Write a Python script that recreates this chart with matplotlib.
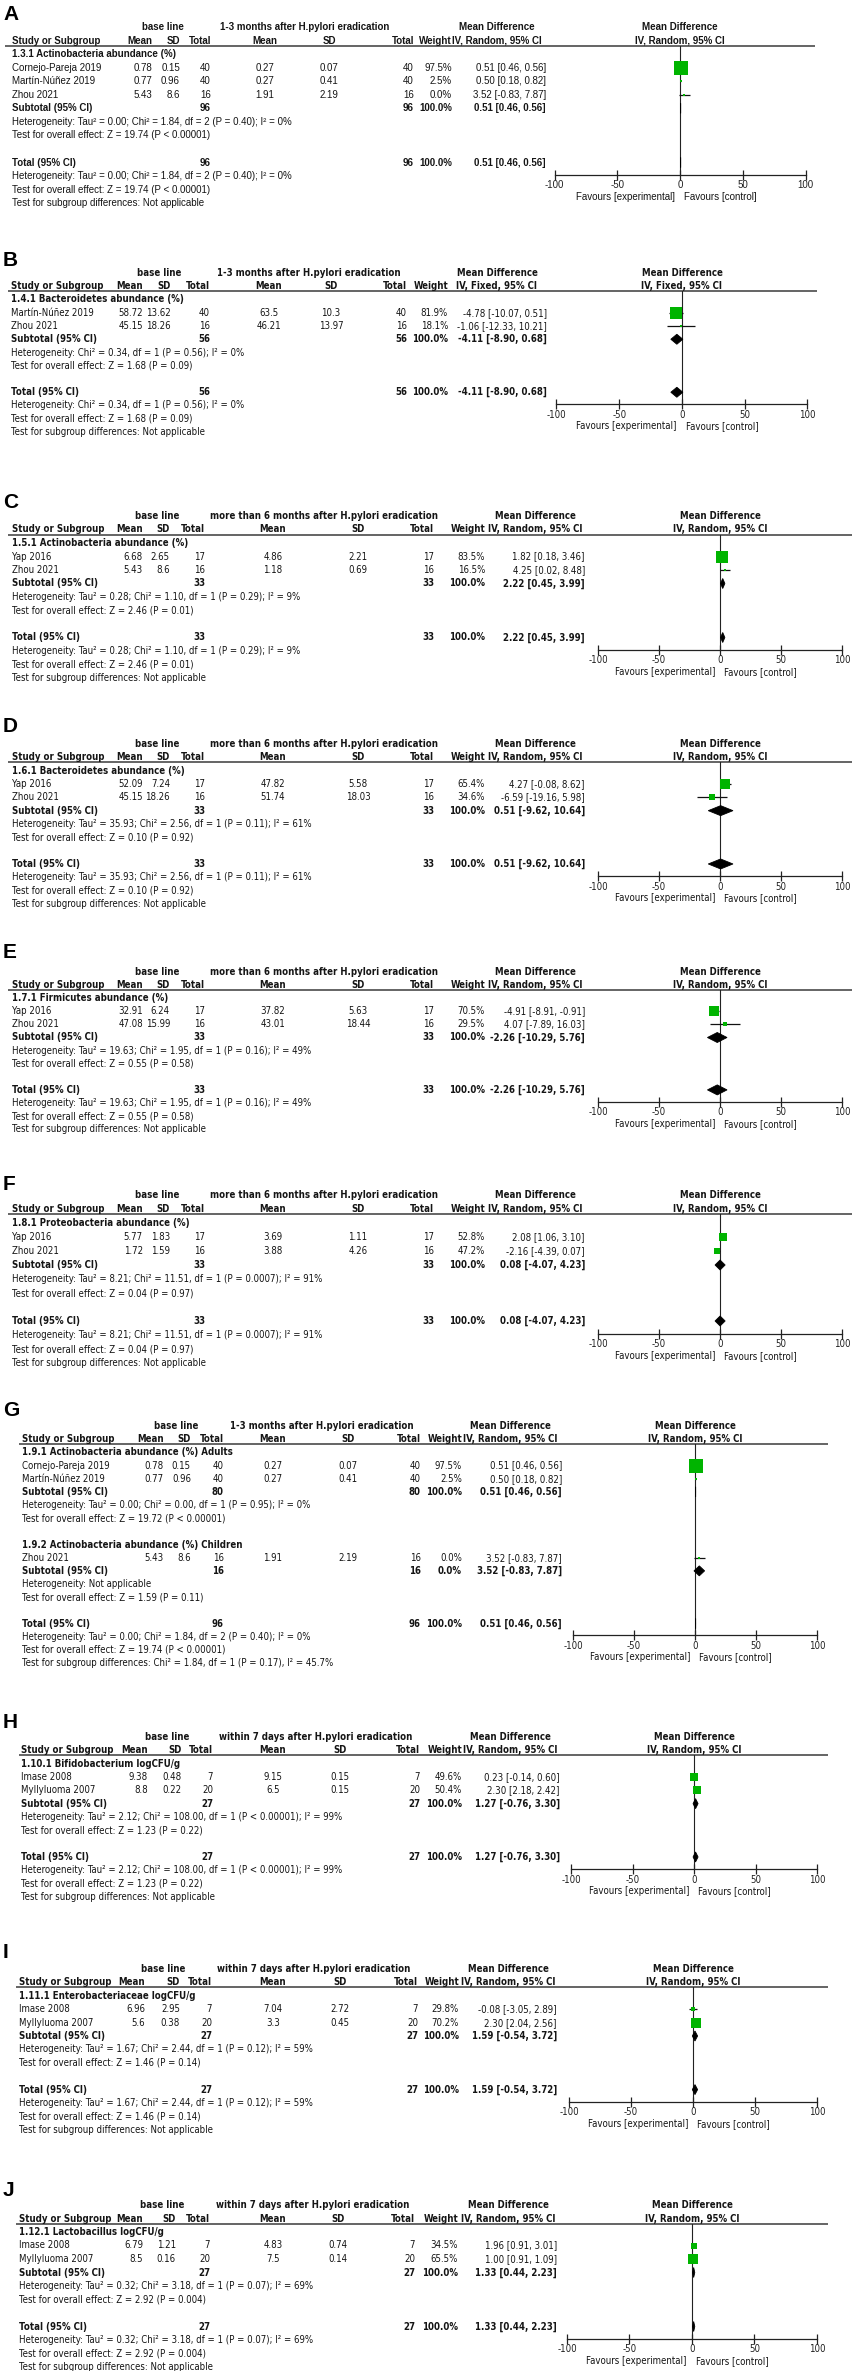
import matplotlib
matplotlib.use('Agg')
import matplotlib.pyplot as plt
from matplotlib import font_manager as fm

plt.rcParams['axes.unicode_minus'] = False

# ---------------------------------------------------------------- data
A_period = '1-3 months after H.pylori eradication'
A_method = 'IV, Random, 95% CI'
A_groups = ['1.3.1 Actinobacteria abundance (%)']
A_study = ['Cornejo-Pareja 2019', 'Martín-Núñez 2019', 'Zhou 2021']
A_grp = [0, 0, 0]
A_m1 = [0.78, 0.77, 5.43]
A_sd1 = [0.15, 0.96, 8.6]
A_n1 = [40, 40, 16]
A_m2 = [0.27, 0.27, 1.91]
A_sd2 = [0.07, 0.41, 2.19]
A_n2 = [40, 40, 16]
A_w = [97.5, 2.5, 0.0]
A_md = [0.51, 0.50, 3.52]
A_lo = [0.46, 0.18, -0.83]
A_hi = [0.56, 0.82, 7.87]
A_sub = [(0.51, 0.46, 0.56)]
A_sub_het = ['Heterogeneity: Tau² = 0.00; Chi² = 1.84, df = 2 (P = 0.40); I² = 0%']
A_sub_z = ['Test for overall effect: Z = 19.74 (P < 0.00001)']
A_tot = (0.51, 0.46, 0.56)

B_period = '1-3 months after H.pylori eradication'
B_method = 'IV, Fixed, 95% CI'
B_groups = ['1.4.1 Bacteroidetes abundance (%)']
B_study = ['Martín-Núñez 2019', 'Zhou 2021']
B_grp = [0, 0]
B_m1 = [58.72, 45.15]
B_sd1 = [13.62, 18.26]
B_n1 = [40, 16]
B_m2 = [63.5, 46.21]
B_sd2 = [10.3, 13.97]
B_n2 = [40, 16]
B_w = [81.9, 18.1]
B_md = [-4.78, -1.06]
B_lo = [-10.07, -12.33]
B_hi = [0.51, 10.21]
B_sub = [(-4.11, -8.90, 0.68)]
B_sub_het = ['Heterogeneity: Chi² = 0.34, df = 1 (P = 0.56); I² = 0%']
B_sub_z = ['Test for overall effect: Z = 1.68 (P = 0.09)']
B_tot = (-4.11, -8.90, 0.68)

C_period = 'more than 6 months after H.pylori eradication'
C_method = 'IV, Random, 95% CI'
C_groups = ['1.5.1 Actinobacteria abundance (%)']
C_study = ['Yap 2016', 'Zhou 2021']
C_grp = [0, 0]
C_m1 = [6.68, 5.43]
C_sd1 = [2.65, 8.6]
C_n1 = [17, 16]
C_m2 = [4.86, 1.18]
C_sd2 = [2.21, 0.69]
C_n2 = [17, 16]
C_w = [83.5, 16.5]
C_md = [1.82, 4.25]
C_lo = [0.18, 0.02]
C_hi = [3.46, 8.48]
C_sub = [(2.22, 0.45, 3.99)]
C_sub_het = ['Heterogeneity: Tau² = 0.28; Chi² = 1.10, df = 1 (P = 0.29); I² = 9%']
C_sub_z = ['Test for overall effect: Z = 2.46 (P = 0.01)']
C_tot = (2.22, 0.45, 3.99)

D_period = 'more than 6 months after H.pylori eradication'
D_method = 'IV, Random, 95% CI'
D_groups = ['1.6.1 Bacteroidetes abundance (%)']
D_study = ['Yap 2016', 'Zhou 2021']
D_grp = [0, 0]
D_m1 = [52.09, 45.15]
D_sd1 = [7.24, 18.26]
D_n1 = [17, 16]
D_m2 = [47.82, 51.74]
D_sd2 = [5.58, 18.03]
D_n2 = [17, 16]
D_w = [65.4, 34.6]
D_md = [4.27, -6.59]
D_lo = [-0.08, -19.16]
D_hi = [8.62, 5.98]
D_sub = [(0.51, -9.62, 10.64)]
D_sub_het = ['Heterogeneity: Tau² = 35.93; Chi² = 2.56, df = 1 (P = 0.11); I² = 61%']
D_sub_z = ['Test for overall effect: Z = 0.10 (P = 0.92)']
D_tot = (0.51, -9.62, 10.64)

E_period = 'more than 6 months after H.pylori eradication'
E_method = 'IV, Random, 95% CI'
E_groups = ['1.7.1 Firmicutes abundance (%)']
E_study = ['Yap 2016', 'Zhou 2021']
E_grp = [0, 0]
E_m1 = [32.91, 47.08]
E_sd1 = [6.24, 15.99]
E_n1 = [17, 16]
E_m2 = [37.82, 43.01]
E_sd2 = [5.63, 18.44]
E_n2 = [17, 16]
E_w = [70.5, 29.5]
E_md = [-4.91, 4.07]
E_lo = [-8.91, -7.89]
E_hi = [-0.91, 16.03]
E_sub = [(-2.26, -10.29, 5.76)]
E_sub_het = ['Heterogeneity: Tau² = 19.63; Chi² = 1.95, df = 1 (P = 0.16); I² = 49%']
E_sub_z = ['Test for overall effect: Z = 0.55 (P = 0.58)']
E_tot = (-2.26, -10.29, 5.76)

F_period = 'more than 6 months after H.pylori eradication'
F_method = 'IV, Random, 95% CI'
F_groups = ['1.8.1 Proteobacteria abundance (%)']
F_study = ['Yap 2016', 'Zhou 2021']
F_grp = [0, 0]
F_m1 = [5.77, 1.72]
F_sd1 = [1.83, 1.59]
F_n1 = [17, 16]
F_m2 = [3.69, 3.88]
F_sd2 = [1.11, 4.26]
F_n2 = [17, 16]
F_w = [52.8, 47.2]
F_md = [2.08, -2.16]
F_lo = [1.06, -4.39]
F_hi = [3.10, 0.07]
F_sub = [(0.08, -4.07, 4.23)]
F_sub_het = ['Heterogeneity: Tau² = 8.21; Chi² = 11.51, df = 1 (P = 0.0007); I² = 91%']
F_sub_z = ['Test for overall effect: Z = 0.04 (P = 0.97)']
F_tot = (0.08, -4.07, 4.23)

G_period = '1-3 months after H.pylori eradication'
G_method = 'IV, Random, 95% CI'
G_groups = ['1.9.1 Actinobacteria abundance (%) Adults',
            '1.9.2 Actinobacteria abundance (%) Children']
G_study = ['Cornejo-Pareja 2019', 'Martín-Núñez 2019', 'Zhou 2021']
G_grp = [0, 0, 1]
G_m1 = [0.78, 0.77, 5.43]
G_sd1 = [0.15, 0.96, 8.6]
G_n1 = [40, 40, 16]
G_m2 = [0.27, 0.27, 1.91]
G_sd2 = [0.07, 0.41, 2.19]
G_n2 = [40, 40, 16]
G_w = [97.5, 2.5, 0.0]
G_md = [0.51, 0.50, 3.52]
G_lo = [0.46, 0.18, -0.83]
G_hi = [0.56, 0.82, 7.87]
G_sub = [(0.51, 0.46, 0.56), (3.52, -0.83, 7.87)]
G_sub_het = ['Heterogeneity: Tau² = 0.00; Chi² = 0.00, df = 1 (P = 0.95); I² = 0%',
             'Heterogeneity: Not applicable']
G_sub_z = ['Test for overall effect: Z = 19.72 (P < 0.00001)',
           'Test for overall effect: Z = 1.59 (P = 0.11)']
G_tot = (0.51, 0.46, 0.56)
G_tot_het = 'Heterogeneity: Tau² = 0.00; Chi² = 1.84, df = 2 (P = 0.40); I² = 0%'
G_tot_z = 'Test for overall effect: Z = 19.74 (P < 0.00001)'
G_diff = 'Test for subgroup differences: Chi² = 1.84, df = 1 (P = 0.17), I² = 45.7%'

H_period = 'within 7 days after H.pylori eradication'
H_method = 'IV, Random, 95% CI'
H_groups = ['1.10.1 Bifidobacterium logCFU/g']
H_study = ['Imase 2008', 'Myllyluoma 2007']
H_grp = [0, 0]
H_m1 = [9.38, 8.8]
H_sd1 = [0.48, 0.22]
H_n1 = [7, 20]
H_m2 = [9.15, 6.5]
H_sd2 = [0.15, 0.15]
H_n2 = [7, 20]
H_w = [49.6, 50.4]
H_md = [0.23, 2.30]
H_lo = [-0.14, 2.18]
H_hi = [0.60, 2.42]
H_sub = [(1.27, -0.76, 3.30)]
H_sub_het = ['Heterogeneity: Tau² = 2.12; Chi² = 108.00, df = 1 (P < 0.00001); I² = 99%']
H_sub_z = ['Test for overall effect: Z = 1.23 (P = 0.22)']
H_tot = (1.27, -0.76, 3.30)

I_period = 'within 7 days after H.pylori eradication'
I_method = 'IV, Random, 95% CI'
I_groups = ['1.11.1 Enterobacteriaceae logCFU/g']
I_study = ['Imase 2008', 'Myllyluoma 2007']
I_grp = [0, 0]
I_m1 = [6.96, 5.6]
I_sd1 = [2.95, 0.38]
I_n1 = [7, 20]
I_m2 = [7.04, 3.3]
I_sd2 = [2.72, 0.45]
I_n2 = [7, 20]
I_w = [29.8, 70.2]
I_md = [-0.08, 2.30]
I_lo = [-3.05, 2.04]
I_hi = [2.89, 2.56]
I_sub = [(1.59, -0.54, 3.72)]
I_sub_het = ['Heterogeneity: Tau² = 1.67; Chi² = 2.44, df = 1 (P = 0.12); I² = 59%']
I_sub_z = ['Test for overall effect: Z = 1.46 (P = 0.14)']
I_tot = (1.59, -0.54, 3.72)

J_period = 'within 7 days after H.pylori eradication'
J_method = 'IV, Random, 95% CI'
J_groups = ['1.12.1 Lactobacillus logCFU/g']
J_study = ['Imase 2008', 'Myllyluoma 2007']
J_grp = [0, 0]
J_m1 = [6.79, 8.5]
J_sd1 = [1.21, 0.16]
J_n1 = [7, 20]
J_m2 = [4.83, 7.5]
J_sd2 = [0.74, 0.14]
J_n2 = [7, 20]
J_w = [34.5, 65.5]
J_md = [1.96, 1.00]
J_lo = [0.91, 0.91]
J_hi = [3.01, 1.09]
J_sub = [(1.33, 0.44, 2.23)]
J_sub_het = ['Heterogeneity: Tau² = 0.32; Chi² = 3.18, df = 1 (P = 0.07); I² = 69%']
J_sub_z = ['Test for overall effect: Z = 2.92 (P = 0.004)']
J_tot = (1.33, 0.44, 2.23)

NOT_APPLICABLE = 'Test for subgroup differences: Not applicable'
TICKS = [-100, -50, 0, 50, 100]


def pack(label, period, method, groups, study, grp, m1, sd1, n1, m2, sd2, n2,
         w, md, lo, hi, sub, sub_het, sub_z, tot, tot_het=None, tot_z=None,
         diff=NOT_APPLICABLE):
    return dict(label=label, period=period, method=method, groups=groups,
                study=study, grp=grp, m1=m1, sd1=sd1, n1=n1, m2=m2, sd2=sd2,
                n2=n2, w=w, md=md, lo=lo, hi=hi, sub=sub, sub_het=sub_het,
                sub_z=sub_z, tot=tot,
                tot_het=tot_het or sub_het[0], tot_z=tot_z or sub_z[0],
                diff=diff)


PANELS = [
    pack('A', A_period, A_method, A_groups, A_study, A_grp, A_m1, A_sd1, A_n1, A_m2,
         A_sd2, A_n2, A_w, A_md, A_lo, A_hi, A_sub, A_sub_het, A_sub_z, A_tot),
    pack('B', B_period, B_method, B_groups, B_study, B_grp, B_m1, B_sd1, B_n1, B_m2,
         B_sd2, B_n2, B_w, B_md, B_lo, B_hi, B_sub, B_sub_het, B_sub_z, B_tot),
    pack('C', C_period, C_method, C_groups, C_study, C_grp, C_m1, C_sd1, C_n1, C_m2,
         C_sd2, C_n2, C_w, C_md, C_lo, C_hi, C_sub, C_sub_het, C_sub_z, C_tot),
    pack('D', D_period, D_method, D_groups, D_study, D_grp, D_m1, D_sd1, D_n1, D_m2,
         D_sd2, D_n2, D_w, D_md, D_lo, D_hi, D_sub, D_sub_het, D_sub_z, D_tot),
    pack('E', E_period, E_method, E_groups, E_study, E_grp, E_m1, E_sd1, E_n1, E_m2,
         E_sd2, E_n2, E_w, E_md, E_lo, E_hi, E_sub, E_sub_het, E_sub_z, E_tot),
    pack('F', F_period, F_method, F_groups, F_study, F_grp, F_m1, F_sd1, F_n1, F_m2,
         F_sd2, F_n2, F_w, F_md, F_lo, F_hi, F_sub, F_sub_het, F_sub_z, F_tot),
    pack('G', G_period, G_method, G_groups, G_study, G_grp, G_m1, G_sd1, G_n1, G_m2,
         G_sd2, G_n2, G_w, G_md, G_lo, G_hi, G_sub, G_sub_het, G_sub_z, G_tot,
         G_tot_het, G_tot_z, G_diff),
    pack('H', H_period, H_method, H_groups, H_study, H_grp, H_m1, H_sd1, H_n1, H_m2,
         H_sd2, H_n2, H_w, H_md, H_lo, H_hi, H_sub, H_sub_het, H_sub_z, H_tot),
    pack('I', I_period, I_method, I_groups, I_study, I_grp, I_m1, I_sd1, I_n1, I_m2,
         I_sd2, I_n2, I_w, I_md, I_lo, I_hi, I_sub, I_sub_het, I_sub_z, I_tot),
    pack('J', J_period, J_method, J_groups, J_study, J_grp, J_m1, J_sd1, J_n1, J_m2,
         J_sd2, J_n2, J_w, J_md, J_lo, J_hi, J_sub, J_sub_het, J_sub_z, J_tot),
]

# ---------------------------------------------------------------- layout (pixels)
# label_y, first row y, row pitch, column anchors, plot zero x and half width
_CF = dict(study=12, m1=143, sd1=170, n1=205, m2=273, sd2=358, n2=434, w=485,
           ci=585, mdh=535, zero=720, half=122, line=(8, 853), baseh=157, grph=324)
LAYOUT = [
    dict(font='A', label_y=15, y0=27, pitch=13.55, study=12, m1=152, sd1=180, n1=211,
         m2=265, sd2=329, n2=414, w=452, ci=546, mdh=497, zero=680, half=125.5,
         line=(5, 815), baseh=163, grph=305),
    dict(font='N', label_y=260, y0=273, pitch=13.25, study=11, m1=143, sd1=171, n1=210,
         m2=269, sd2=331, n2=407, w=448, ci=547, mdh=497, zero=682, half=125.5,
         line=(8, 817), baseh=159, grph=309),
    dict(font='N', label_y=503, y0=516, pitch=13.5, **_CF),
    dict(font='N', label_y=727, y0=744, pitch=13.33, **_CF),
    dict(font='N', label_y=952, y0=972, pitch=13.1, **_CF),
    dict(font='N', label_y=1185, y0=1195, pitch=14.0, **_CF),
    dict(font='N', label_y=1410, y0=1426, pitch=13.17, study=22, m1=164, sd1=191, n1=224,
         m2=273, sd2=348, n2=421, w=462, ci=562, mdh=510, zero=695, half=122,
         line=(19, 828), baseh=176, grph=322),
    dict(font='N', label_y=1723, y0=1737, pitch=13.33, study=21, m1=148, sd1=182, n1=213,
         m2=273, sd2=340, n2=420, w=462, ci=560, mdh=510, zero=694, half=123,
         line=(19, 828), baseh=167, grph=316),
    dict(font='N', label_y=1953, y0=1969, pitch=13.4, study=19, m1=145, sd1=180, n1=212,
         m2=273, sd2=340, n2=418, w=459, ci=557, mdh=508, zero=693, half=124,
         line=(16, 828), baseh=163, grph=314),
    dict(font='N', label_y=2190, y0=2205, pitch=13.5, study=19, m1=143, sd1=176, n1=210,
         m2=273, sd2=338, n2=415, w=458, ci=557, mdh=508, zero=692, half=125,
         line=(16, 828), baseh=162, grph=313),
]

GREEN = '#00b400'
INK = '#151515'
W, H = 853, 2371

fig = plt.figure(figsize=(W / 100, H / 100), dpi=100, facecolor='white')
page = fig.add_axes([0, 0, 1, 1])
page.set_xlim(0, W)
page.set_ylim(H, 0)
page.axis('off')

# fonts: panel A is plain Arial-like, the others a narrow face
names = {f.name for f in fm.fontManager.ttflist}
FONT_A = dict(family='Liberation Sans')
if 'Liberation Sans Narrow' in names:
    FONT_N = dict(family='Liberation Sans Narrow')
elif any(f.name == 'DejaVu Sans' and 'condensed' in str(f.stretch)
         for f in fm.fontManager.ttflist):
    FONT_N = dict(family='DejaVu Sans', stretch='condensed')
else:
    FONT_N = dict(family='Liberation Sans')

renderer = fig.canvas.get_renderer()
REF = 'Heterogeneity: Tau² = 0.00; Chi² = 1.84, df = 2 (P = 0.40); I² = 0%'


def fit_size(font, target_px):
    t = fig.text(0, 0, REF, fontsize=10, **font)
    width = t.get_window_extent(renderer).width
    t.remove()
    return 10 * target_px / width


FS_A = fit_size(FONT_A, 282)
FS_N = fit_size(FONT_N, 290)


def num(v):
    return f'{v:g}'


def ci_text(md, lo, hi):
    return f'{md:.2f} [{lo:.2f}, {hi:.2f}]'


def draw_panel(d, L):
    font = FONT_A if L['font'] == 'A' else FONT_N
    fs = FS_A if L['font'] == 'A' else FS_N
    p, y0 = L['pitch'], L['y0']

    def row(i):
        return y0 + i * p

    def put(x, y, s, ha='left', bold=False):
        page.text(x, y, s, ha=ha, va='center', fontsize=fs, color=INK,
                  fontweight='bold' if bold else 'normal', **font)

    page.text(3, L['label_y'], d['label'], fontsize=15, fontweight='bold',
              va='center', ha='left', family='Liberation Sans', color='black')

    # header rows
    put(L['baseh'], row(0), 'base line', 'center', True)
    put(L['grph'], row(0), d['period'], 'center', True)
    put(L['mdh'], row(0), 'Mean Difference', 'center', True)
    put(L['zero'], row(0), 'Mean Difference', 'center', True)
    put(L['study'], row(1), 'Study or Subgroup', 'left', True)
    put(L['m1'], row(1), 'Mean', 'right', True)
    put(L['sd1'], row(1), 'SD', 'right', True)
    put(L['n1'], row(1), 'Total', 'right', True)
    put(L['m2'], row(1), 'Mean', 'center', True)
    put(L['sd2'], row(1), 'SD', 'center', True)
    put(L['n2'], row(1), 'Total', 'right', True)
    put(L['w'], row(1), 'Weight', 'right', True)
    put(L['mdh'], row(1), d['method'], 'center', True)
    put(L['zero'], row(1), d['method'], 'center', True)
    line_y = row(1) + 0.38 * p
    page.hlines(line_y, L['line'][0], L['line'][1], color='#3a3a3a', lw=1.1)

    # body rows
    items = []
    for g in range(len(d['groups'])):
        items.append(('group', g))
        items += [('study', i) for i in range(len(d['study'])) if d['grp'][i] == g]
        items += [('subtotal', g), ('text', d['sub_het'][g]), ('text', d['sub_z'][g]),
                  ('blank', None)]
    items += [('total', None), ('text', d['tot_het']), ('text', d['tot_z']),
              ('text', d['diff'])]

    marks = []
    total_y = None
    for k, (kind, ref) in enumerate(items):
        y = row(k + 2)
        if kind == 'group':
            put(L['study'], y, d['groups'][ref], bold=True)
        elif kind == 'study':
            i = ref
            put(L['study'], y, d['study'][i])
            put(L['m1'], y, num(d['m1'][i]), 'right')
            put(L['sd1'], y, num(d['sd1'][i]), 'right')
            put(L['n1'], y, str(d['n1'][i]), 'right')
            put(L['m2'], y, num(d['m2'][i]), 'center')
            put(L['sd2'], y, num(d['sd2'][i]), 'center')
            put(L['n2'], y, str(d['n2'][i]), 'right')
            put(L['w'], y, f"{d['w'][i]:.1f}%", 'right')
            put(L['ci'], y, ci_text(d['md'][i], d['lo'][i], d['hi'][i]), 'right')
            marks.append(('study', i, y))
        elif kind in ('subtotal', 'total'):
            sel = [i for i in range(len(d['study']))
                   if kind == 'total' or d['grp'][i] == ref]
            est = d['tot'] if kind == 'total' else d['sub'][ref]
            put(L['study'], y, 'Subtotal (95% CI)' if kind == 'subtotal'
                else 'Total (95% CI)', bold=True)
            put(L['n1'], y, str(sum(d['n1'][i] for i in sel)), 'right', True)
            put(L['n2'], y, str(sum(d['n2'][i] for i in sel)), 'right', True)
            put(L['w'], y, f"{sum(d['w'][i] for i in sel):.1f}%", 'right', True)
            put(L['ci'], y, ci_text(*est), 'right', True)
            marks.append(('diamond', est, y))
            if kind == 'total':
                total_y = y
        elif kind == 'text':
            put(L['study'], y, ref)

    # forest plot axes: x in mean-difference units, y in page pixels
    axis_y = total_y + 0.9 * p
    left = L['zero'] - L['half']
    fx = fig.add_axes([left / W, 1 - axis_y / H, 2 * L['half'] / W,
                       (axis_y - line_y) / H])
    fx.set_xlim(-100, 100)
    fx.set_ylim(axis_y, line_y)
    fx.patch.set_visible(False)
    for side in ('top', 'left', 'right'):
        fx.spines[side].set_visible(False)
    fx.spines['bottom'].set_linewidth(0.9)
    fx.spines['bottom'].set_color('#222222')
    fx.set_yticks([])
    fx.set_xticks(TICKS)
    fx.tick_params(axis='x', direction='inout', length=7, width=0.9, pad=0.5,
                   labelsize=fs, colors='#222222')
    for lab in fx.get_xticklabels():
        lab.set(**font)
    fx.axvline(0, color='#222222', lw=0.8, zorder=1)

    for kind, ref, y in marks:
        if kind == 'study':
            i = ref
            fx.hlines(y, d['lo'][i], d['hi'][i], color='#111111', lw=0.9, zorder=2,
                      clip_on=False)
            side_px = max(2.5, 0.145 * d['w'][i])
            fx.plot(d['md'][i], y, marker='s', ms=side_px * 0.72, color=GREEN,
                    mec=GREEN, mew=0, ls='none', zorder=3, clip_on=False)
        else:
            md, lo, hi = ref
            hh = 5.0
            fx.fill([lo, md, hi, md], [y, y - hh, y, y + hh], color='black',
                    lw=0.6, ec='black', zorder=3, clip_on=False)

    fav_y = axis_y + 22
    fx.text(-4, fav_y, 'Favours [experimental]', ha='right', va='center',
            fontsize=fs, color=INK, **font)
    fx.text(3, fav_y, 'Favours [control]', ha='left', va='center',
            fontsize=fs, color=INK, **font)


for d, L in zip(PANELS, LAYOUT):
    draw_panel(d, L)

fig.savefig('out.png', dpi=100, facecolor='white')
